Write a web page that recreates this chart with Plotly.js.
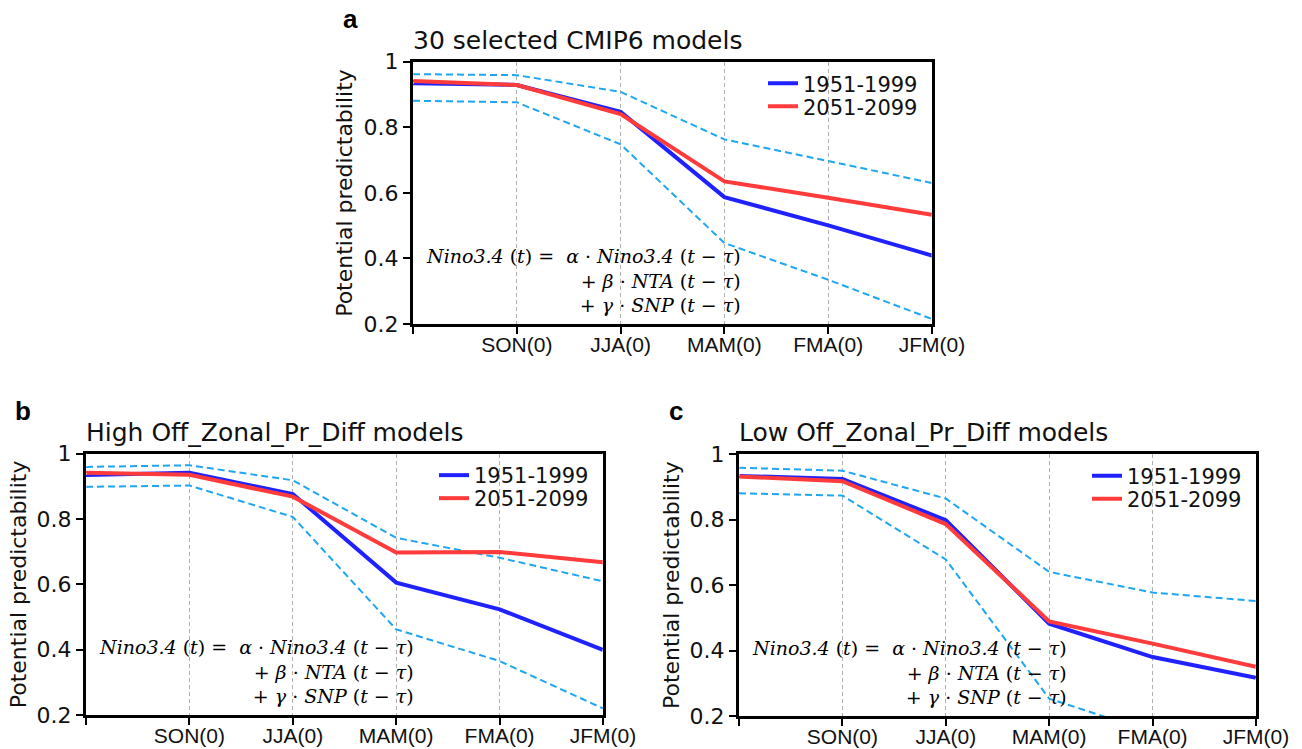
<!DOCTYPE html>
<html>
<head>
<meta charset="utf-8">
<script src="https://cdn.plot.ly/plotly-3.0.1.min.js"></script>
<style>
html,body{margin:0;padding:0;background:#fff;}
#chart{width:1302px;height:749px;}
</style>
</head>
<body>
<div id="chart"></div>
<script>
// ---- data ----
const xIndex = [0, 1, 2, 3, 4, 5];
const tickLabels = ["", "SON(0)", "JJA(0)", "MAM(0)", "FMA(0)", "JFM(0)"];
const yTickVals = [0.2, 0.4, 0.6, 0.8, 1];
const yTickText = ["0.2", "0.4", "0.6", "0.8", "1"];
const seriesNames = ["1951-1999", "2051-2099"];
const panelTitles = ["30 selected CMIP6 models", "High Off_Zonal_Pr_Diff models", "Low Off_Zonal_Pr_Diff models"];
const panelLetters = ["a", "b", "c"];
const yTitle = "Potential predictability";

// panel a
const a_hist  = [0.934, 0.929, 0.847, 0.587, 0.501, 0.409];
const a_fut   = [0.941, 0.929, 0.840, 0.635, 0.585, 0.533];
const a_upper = [0.962, 0.959, 0.908, 0.763, 0.697, 0.630];
const a_lower = [0.881, 0.876, 0.748, 0.447, 0.335, 0.215];
// panel b
const b_hist  = [0.934, 0.941, 0.876, 0.605, 0.523, 0.399];
const b_fut   = [0.941, 0.935, 0.868, 0.697, 0.699, 0.667];
const b_upper = [0.959, 0.964, 0.918, 0.742, 0.681, 0.609];
const b_lower = [0.898, 0.902, 0.806, 0.462, 0.365, 0.220];
// panel c
const c_hist  = [0.933, 0.924, 0.798, 0.482, 0.380, 0.317];
const c_fut   = [0.931, 0.917, 0.786, 0.489, 0.421, 0.350];
const c_upper = [0.958, 0.949, 0.864, 0.640, 0.577, 0.551];
const c_lower = [0.880, 0.873, 0.678, 0.253, 0.150, 0.080];

// ---- styling / layout ----
const W = 1302, H = 749;
const BLUE = "#1f22ff", RED = "#ff3b3b", DASH = "#1ea6f2";
const SANS = "DejaVu Sans, Verdana, sans-serif";
const TICKF = "Liberation Sans, Arial, sans-serif";
const SERIF = "DejaVu Serif, Liberation Serif, serif";

// panel pixel boxes [left, right, top, bottom]
const boxes = [
  [413, 932, 61.7, 324],
  [86, 603, 453.5, 715],
  [739, 1256, 454, 716]
];
const panels = [
  [a_hist, a_fut, a_upper, a_lower],
  [b_hist, b_fut, b_upper, b_lower],
  [c_hist, c_fut, c_upper, c_lower]
];

const traces = [];
const layout = {
  width: W, height: H,
  margin: {l: 0, r: 0, t: 0, b: 0},
  paper_bgcolor: "#fff", plot_bgcolor: "#fff",
  showlegend: true,
  annotations: [],
  shapes: []
};

const eq = "<i>Nino3.4</i> (<i>t</i>) =  <i>α</i> · <i>Nino3.4</i> (<i>t</i> − <i>τ</i>)<br>+ <i>β</i> · <i>NTA</i> (<i>t</i> − <i>τ</i>)<br>+ <i>γ</i> · <i>SNP</i> (<i>t</i> − <i>τ</i>)";

let legCount = 0;
function legendName() {
  legCount += 1;
  return legCount === 1 ? "legend" : "legend" + legCount;
}

panels.forEach((p, i) => {
  const n = i === 0 ? "" : String(i + 1);
  const xa = "x" + n, ya = "y" + n;
  const [l, r, t, b] = boxes[i];
  const [hist, fut, up, lo] = p;
  const legH = legendName(), legF = legendName();

  traces.push({x: xIndex, y: up, xaxis: xa, yaxis: ya, mode: "lines", showlegend: false,
    line: {color: DASH, width: 2, dash: "7px,4px"}, hoverinfo: "skip"});
  traces.push({x: xIndex, y: lo, xaxis: xa, yaxis: ya, mode: "lines", showlegend: false,
    line: {color: DASH, width: 2, dash: "7px,4px"}, hoverinfo: "skip"});
  traces.push({x: xIndex, y: hist, xaxis: xa, yaxis: ya, mode: "lines", name: seriesNames[0],
    legend: legH, line: {color: BLUE, width: 4}});
  traces.push({x: xIndex, y: fut, xaxis: xa, yaxis: ya, mode: "lines", name: seriesNames[1],
    legend: legF, line: {color: RED, width: 4}});

  layout["xaxis" + n] = {
    domain: [l / W, r / W], anchor: ya, range: [0, 5],
    tickmode: "array", tickvals: xIndex, ticktext: tickLabels,
    ticks: "outside", ticklen: 7, tickwidth: 2, tickcolor: "#000",
    ticklabelstandoff: -7,
    tickfont: {family: TICKF, size: 21, color: "#111"},
    showline: true, mirror: true, linecolor: "#000", linewidth: 3,
    showgrid: true, gridcolor: "#b0b0b0", gridwidth: 1, griddash: "4px,3px",
    zeroline: false, fixedrange: true
  };
  layout["yaxis" + n] = {
    domain: [1 - b / H, 1 - t / H], anchor: xa, range: [0.2, 1],
    tickmode: "array", tickvals: yTickVals, ticktext: yTickText,
    ticks: "outside", ticklen: 7, tickwidth: 2, tickcolor: "#000",
    tickfont: {family: SANS, size: 22, color: "#111"},
    showline: true, mirror: true, linecolor: "#000", linewidth: 3,
    showgrid: false, zeroline: false, fixedrange: true
  };
  const legBase = {
    x: (r - 9) / W, xanchor: "right", yanchor: "top",
    bgcolor: "rgba(0,0,0,0)", borderwidth: 0,
    font: {family: SANS, size: 21, color: "#111"},
    itemclick: false
  };
  layout[legH] = Object.assign({}, legBase, {y: 1 - (t + 1.5) / H});
  layout[legF] = Object.assign({}, legBase, {y: 1 - (t + 24.5) / H});

  // dotted look on side frame lines
  [0, 5].forEach(xv => {
    layout.shapes.push({type: "line", xref: xa, yref: ya + " domain", x0: xv, x1: xv, y0: 0, y1: 1,
      line: {color: "#fff", width: 1, dash: "2px,2px"}});
  });

  // panel title
  layout.annotations.push({text: panelTitles[i], xref: "paper", yref: "paper",
    x: (l - 2) / W, xanchor: "left", y: 1 - (t - 5) / H, yanchor: "bottom",
    showarrow: false, font: {family: SANS, size: 25, color: "#111"}});
  // panel letter
  layout.annotations.push({text: "<b>" + panelLetters[i] + "</b>", xref: "paper", yref: "paper",
    x: (l - 63) / W, xanchor: "center", y: 1 - (t - 43) / H, yanchor: "middle",
    showarrow: false, font: {family: "Liberation Sans, Arial, sans-serif", size: 26, color: "#000"}});
  // y title
  layout.annotations.push({text: yTitle, xref: "paper", yref: "paper",
    x: (l - 68) / W, xanchor: "center", y: 1 - ((t + b) / 2) / H, yanchor: "middle",
    textangle: -90, showarrow: false, font: {family: SANS, size: 22, color: "#111"}});
  // equation
  layout.annotations.push({text: eq, xref: xa + " domain", yref: ya + " domain",
    x: 330 / (r - l), xanchor: "right", y: 0.165, yanchor: "middle", align: "right",
    showarrow: false, font: {family: SERIF, size: 19, color: "#000"}});
});

Plotly.newPlot("chart", traces, layout, {displayModeBar: false, staticPlot: true});
</script>
</body>
</html>
